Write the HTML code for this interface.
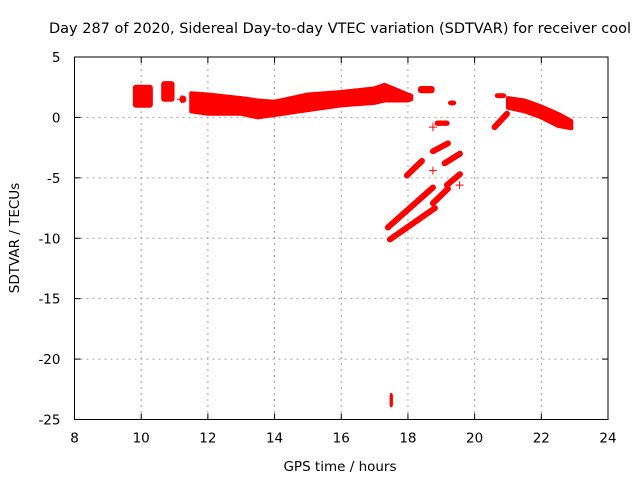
<!DOCTYPE html>
<html><head><meta charset="utf-8"><style>
body{margin:0;background:#fff}
svg{display:block;font-family:"DejaVu Sans","Liberation Sans",sans-serif}
</style></head><body>
<svg id="chart" width="640" height="480">
<text x="340" y="33" text-anchor="middle" font-size="14.5">Day 287 of 2020, Sidereal Day-to-day VTEC variation (SDTVAR) for receiver cool</text>
<text x="340" y="471" text-anchor="middle" font-size="13.5">GPS time / hours</text>
<text x="19" y="238" text-anchor="middle" font-size="13.5" transform="rotate(-90 19 238)">SDTVAR / TECUs</text>
<g id="grid"></g><g id="data"></g><g id="axes"></g>
</svg>
<script>
const xTicks=[8,10,12,14,16,18,20,22,24];
const yTicks=[5,0,-5,-10,-15,-20,-25];
// main band (hours, upper, lower)
const bandHours=[11.5,12,13,13.5,14,15,16,17,17.3,18,18.1];
const bandTop=[2.0,1.9,1.6,1.4,1.3,1.9,2.1,2.4,2.7,1.9,1.8];
const bandBottom=[0.5,0.3,0.3,0.0,0.2,0.6,1.0,1.2,1.4,1.4,1.5];
// right band
const rightHours=[21.0,21.5,22.0,22.5,22.9];
const rightTop=[1.6,1.4,0.9,0.3,-0.3];
const rightBottom=[0.8,0.5,0.0,-0.7,-0.9];
// blobs: hour start, hour end, y low, y high
const blobH0=[9.75,10.6,11.15,18.3,19.2,18.8,20.6,17.45];
const blobH1=[10.35,11.0,11.35,18.8,19.45,19.25,20.95,17.55];
const blobLo=[0.8,1.3,1.2,2.0,1.0,-0.7,1.6,-24.0];
const blobHi=[2.7,3.0,1.8,2.6,1.4,-0.25,2.0,-22.8];
// diagonal streaks: start hour, start value, end hour, end value
const streakH0=[17.4,17.46,17.97,18.75,19.1,19.17,18.75,20.6];
const streakV0=[-9.1,-10.1,-4.8,-2.8,-3.8,-5.6,-7.1,-0.8];
const streakH1=[18.75,18.81,18.42,19.2,19.56,19.56,19.2,20.97];
const streakV1=[-5.8,-7.5,-3.6,-2.15,-3.0,-4.7,-5.9,0.3];
// isolated points
const ptH=[18.75,18.75,19.55,11.2];
const ptV=[-0.8,-4.4,-5.6,1.5];

const L=74.5,R=608,T=57,B=419.5;
const X=h=>L+(h-8)*(R-L)/16;
const Y=v=>T+(5-v)*(B-T)/30;
const NS='http://www.w3.org/2000/svg';
function mk(p,tag,a){const e=document.createElementNS(NS,tag);for(const k in a)e.setAttribute(k,a[k]);document.getElementById(p).appendChild(e);return e;}

xTicks.forEach(t=>{
  if(t>8&&t<24){const g=mk('grid','line',{x1:X(t),x2:X(t),y1:T,y2:B,stroke:'#a0a0a0','stroke-dasharray':'2,4'});
  
  }
  mk('axes','line',{x1:X(t),x2:X(t),y1:B,y2:B-6,stroke:'#000'});
  mk('axes','line',{x1:X(t),x2:X(t),y1:T,y2:T+6,stroke:'#000'});
  const s=mk('axes','text',{x:X(t),y:B+23,'text-anchor':'middle','font-size':13.5});
  s.textContent=t;
  
  
});
yTicks.forEach(t=>{
  if(t<5&&t>-25){const g=mk('grid','line',{x1:L,x2:R,y1:Y(t),y2:Y(t),stroke:'#a0a0a0','stroke-dasharray':'2,4'});
  
  }
  mk('axes','line',{x1:L,x2:L+6,y1:Y(t),y2:Y(t),stroke:'#000'});
  mk('axes','line',{x1:R,x2:R-6,y1:Y(t),y2:Y(t),stroke:'#000'});
  const s=mk('axes','text',{x:L-14,y:Y(t)+5,'text-anchor':'end','font-size':13.5});
  s.textContent=t;
  
  
});
const fr=mk('axes','rect',{x:L,y:T,width:R-L,height:B-T,fill:'none',stroke:'#000'});



function band(hs,tp,bt,name){
  let pts=hs.map((h,i)=>X(h)+','+Y(tp[i]));
  for(let i=hs.length-1;i>=0;i--)pts.push(X(hs[i])+','+Y(bt[i]));
  const p=mk('data','polygon',{points:pts.join(' '),fill:'#f00',stroke:'#f00','stroke-width':4,'stroke-linejoin':'round'});
  
  
}
band(bandHours,bandTop,bandBottom,'main-band');
band(rightHours,rightTop,rightBottom,'right-band');
blobH0.forEach((h,i)=>{
  const r=mk('data','rect',{x:X(h),y:Y(blobHi[i]),width:X(blobH1[i])-X(h),height:Y(blobLo[i])-Y(blobHi[i]),fill:'#f00',rx:3});
  
  
});
streakH0.forEach((h,i)=>{
  const l=mk('data','line',{x1:X(h),y1:Y(streakV0[i]),x2:X(streakH1[i]),y2:Y(streakV1[i]),stroke:'#f00','stroke-width':6,'stroke-linecap':'round'});
  
  
});
ptH.forEach((h,i)=>{
  const x=X(h),y=Y(ptV[i]);
  const p=mk('data','path',{d:`M${x-4},${y}H${x+4}M${x},${y-4}V${y+4}`,stroke:'#f00','stroke-width':1});
  
  
});
</script>
</body></html>
